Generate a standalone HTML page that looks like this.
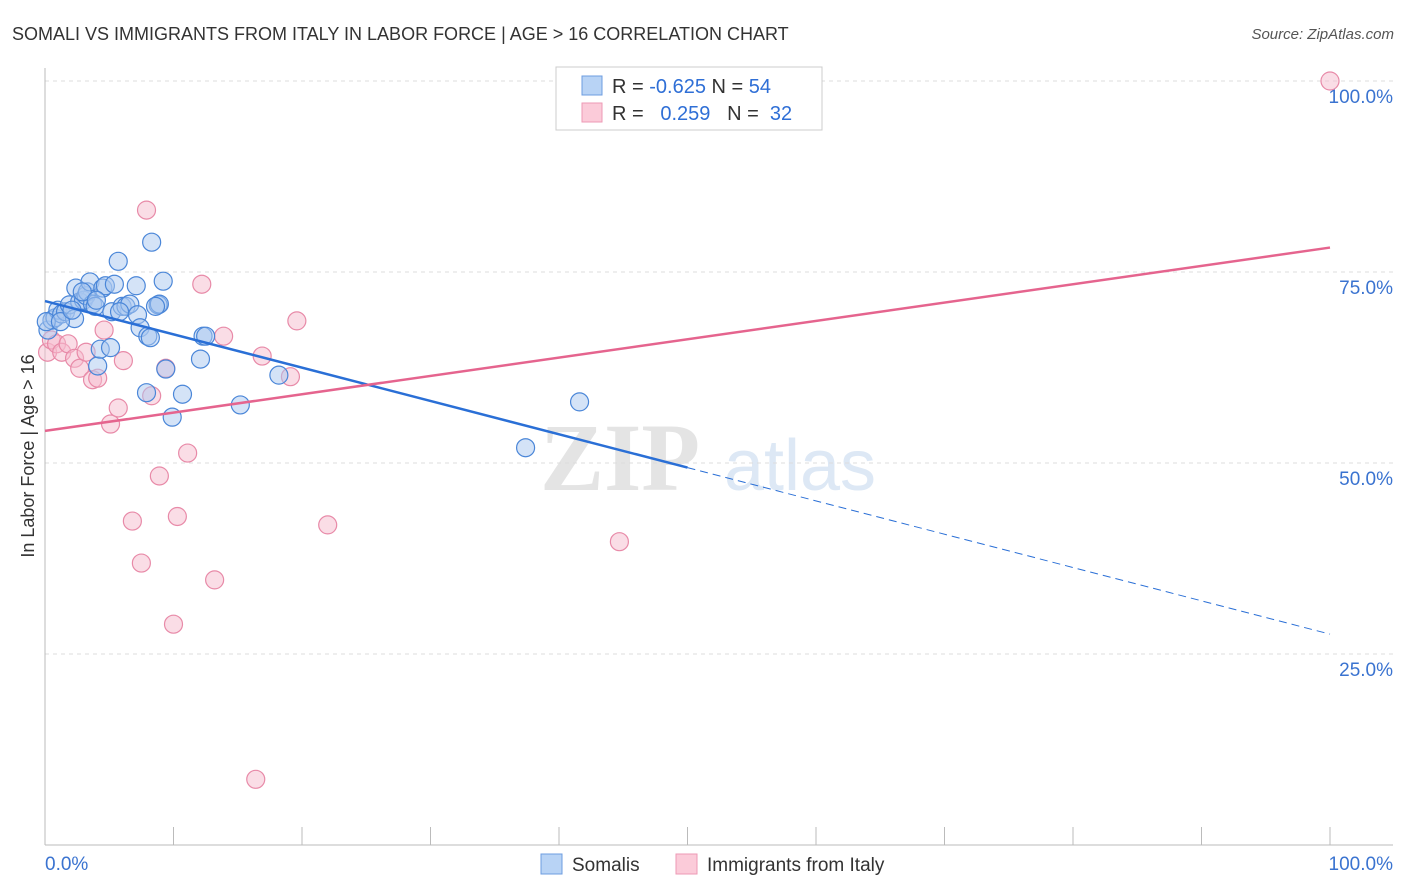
<!DOCTYPE html>
<html><head><meta charset="utf-8">
<style>
body{margin:0;background:#fff;font-family:"Liberation Sans",sans-serif;}
#wrap{position:relative;width:1406px;height:892px;overflow:hidden;}
</style></head>
<body>
<div id="wrap">
<svg id="svg" width="1406" height="892" xmlns="http://www.w3.org/2000/svg">
<text x="12" y="40" font-size="18" fill="#333">SOMALI VS IMMIGRANTS FROM ITALY IN LABOR FORCE | AGE &gt; 16 CORRELATION CHART</text>
<text x="1394" y="39" font-size="15" fill="#555" font-style="italic" text-anchor="end">Source: ZipAtlas.com</text>
<text x="620" y="490" font-size="96" fill="#e4e4e4" font-family="Liberation Serif" font-weight="bold" text-anchor="middle">ZIP</text>
<text x="800" y="490" font-size="72" fill="#dde8f5" text-anchor="middle">atlas</text>
<g id="grid"></g>
<g id="marks"></g>
<text transform="translate(34,456) rotate(-90)" font-size="18" fill="#333" text-anchor="middle">In Labor Force | Age &gt; 16</text>
<g>
<rect x="556" y="67" width="266" height="63" fill="#fff" stroke="#ccc"/>
<rect x="582" y="76" width="20" height="19" fill="#b8d3f5" stroke="#6d9de0"/>
<rect x="582" y="103" width="20" height="19" fill="#fbcbd9" stroke="#ee9ab5"/>
<text x="612" y="93" font-size="20" fill="#333">R = <tspan fill="#2f6fd6">-0.625</tspan>   N = <tspan fill="#2f6fd6">54</tspan></text>
<text x="612" y="120" font-size="20" fill="#333" xml:space="preserve">R =   <tspan fill="#2f6fd6">0.259</tspan>   N =  <tspan fill="#2f6fd6">32</tspan></text>
</g>
<g>
<rect x="541" y="854" width="21" height="20" fill="#b8d3f5" stroke="#6d9de0"/>
<text x="572" y="871" font-size="19" fill="#333">Somalis</text>
<rect x="676" y="854" width="21" height="20" fill="#fbcbd9" stroke="#ee9ab5"/>
<text x="707" y="871" font-size="19" fill="#333">Immigrants from Italy</text>
</g>
</svg>
</div>
<script>
const blueX=[0.23,0.54,0.78,1.0,1.3,1.6,1.9,2.3,2.4,2.7,3.0,3.2,3.3,3.5,3.7,3.9,4.1,4.3,4.5,4.7,5.1,5.2,5.4,5.7,6.0,6.3,6.6,7.1,7.2,7.4,7.9,8.0,8.2,8.3,8.8,8.9,9.2,9.4,9.9,10.7,12.1,12.3,12.5,15.2,18.2,37.4,41.6,0.1,1.2,2.1,2.9,4.0,5.8,8.6];
const blueY=[67.4,68.7,69.0,70.0,69.5,69.8,70.7,68.9,72.9,71.1,71.3,71.9,72.4,73.7,70.8,70.5,62.7,64.9,72.9,73.2,65.1,69.8,73.4,76.4,70.5,70.5,70.8,73.2,69.4,67.7,59.2,66.6,66.4,78.9,70.7,70.8,73.8,62.3,56.0,59.0,63.6,66.6,66.6,57.6,61.5,52.0,58.0,68.5,68.5,70.0,72.4,71.3,69.8,70.5];
const pinkX=[0.2,0.5,0.9,1.3,1.8,2.3,2.7,3.2,3.7,4.1,4.6,5.1,5.7,6.1,6.8,7.5,7.9,8.3,8.9,9.4,10.0,10.3,11.1,12.2,13.2,13.9,16.4,16.9,19.1,19.6,22.0,44.7,100];
const pinkY=[64.5,66.1,65.6,64.5,65.6,63.7,62.4,64.5,60.9,61.1,67.4,55.1,57.2,63.4,42.4,36.9,83.1,58.8,48.3,62.4,28.9,43.0,51.3,73.4,34.7,66.6,8.6,64.0,61.3,68.6,41.9,39.7,100];
const blueTrend=[71.2,-0.436];
const pinkTrend=[54.2,0.24];
const yTicks=[100,75,50,25];
const yTickLabels=["100.0%","75.0%","50.0%","25.0%"];
const NS="http://www.w3.org/2000/svg";
const sx=v=>45+v*12.85, sy=v=>845-v*7.64;
const grid=document.getElementById('grid'), marks=document.getElementById('marks');
function mk(tag,attrs,parent){const e=document.createElementNS(NS,tag);for(const k in attrs)e.setAttribute(k,attrs[k]);parent.appendChild(e);return e;}
yTicks.forEach((t,i)=>{
 const l=mk('line',{x1:45,x2:1393,y1:sy(t),y2:sy(t),stroke:'#ddd','stroke-dasharray':'4,4'},grid);
 
 
 const tx=mk('text',{x:1393,y:sy(t)+22,'font-size':19,fill:'#3a73d0','text-anchor':'end'},grid);
 tx.textContent=yTickLabels[i];
 
 
});
let ax=mk('line',{x1:45,x2:45,y1:68,y2:845,stroke:'#bbb'},grid);


ax=mk('line',{x1:45,x2:1393,y1:845,y2:845,stroke:'#bbb'},grid);


for(let k=1;k<=10;k++){const t=mk('line',{x1:sx(k*10),x2:sx(k*10),y1:827,y2:845,stroke:'#bbb'},grid);
 
 }
[["0.0%",45,'start'],["100.0%",1393,'end']].forEach(a=>{const t=mk('text',{x:a[1],y:870,'font-size':19,fill:'#3a73d0','text-anchor':a[2]},grid);t.textContent=a[0];
 
 });
function dots(X,Y,fill,stroke,name){X.forEach((x,i)=>{const c=mk('circle',{cx:sx(x),cy:sy(Y[i]),r:9,fill:fill,'fill-opacity':0.5,stroke:stroke,'stroke-width':1.2},marks);
 
 });}
dots(pinkX,pinkY,'#f6bccd','#e88aa8','point-italy');
dots(blueX,blueY,'#a9c8f0','#4a86d8','point-somali');
const bf=v=>blueTrend[0]+blueTrend[1]*v, pf=v=>pinkTrend[0]+pinkTrend[1]*v;
let l=mk('line',{x1:sx(0),y1:sy(bf(0)),x2:sx(50),y2:sy(bf(50)),stroke:'#2a6fd6','stroke-width':2.5},marks);


l=mk('line',{x1:sx(50),y1:sy(bf(50)),x2:sx(100),y2:sy(bf(100)),stroke:'#2a6fd6','stroke-width':1,'stroke-dasharray':'8,5'},marks);


l=mk('line',{x1:sx(0),y1:sy(pf(0)),x2:sx(100),y2:sy(pf(100)),stroke:'#e5648e','stroke-width':2.5},marks);


</script>
</body></html>
